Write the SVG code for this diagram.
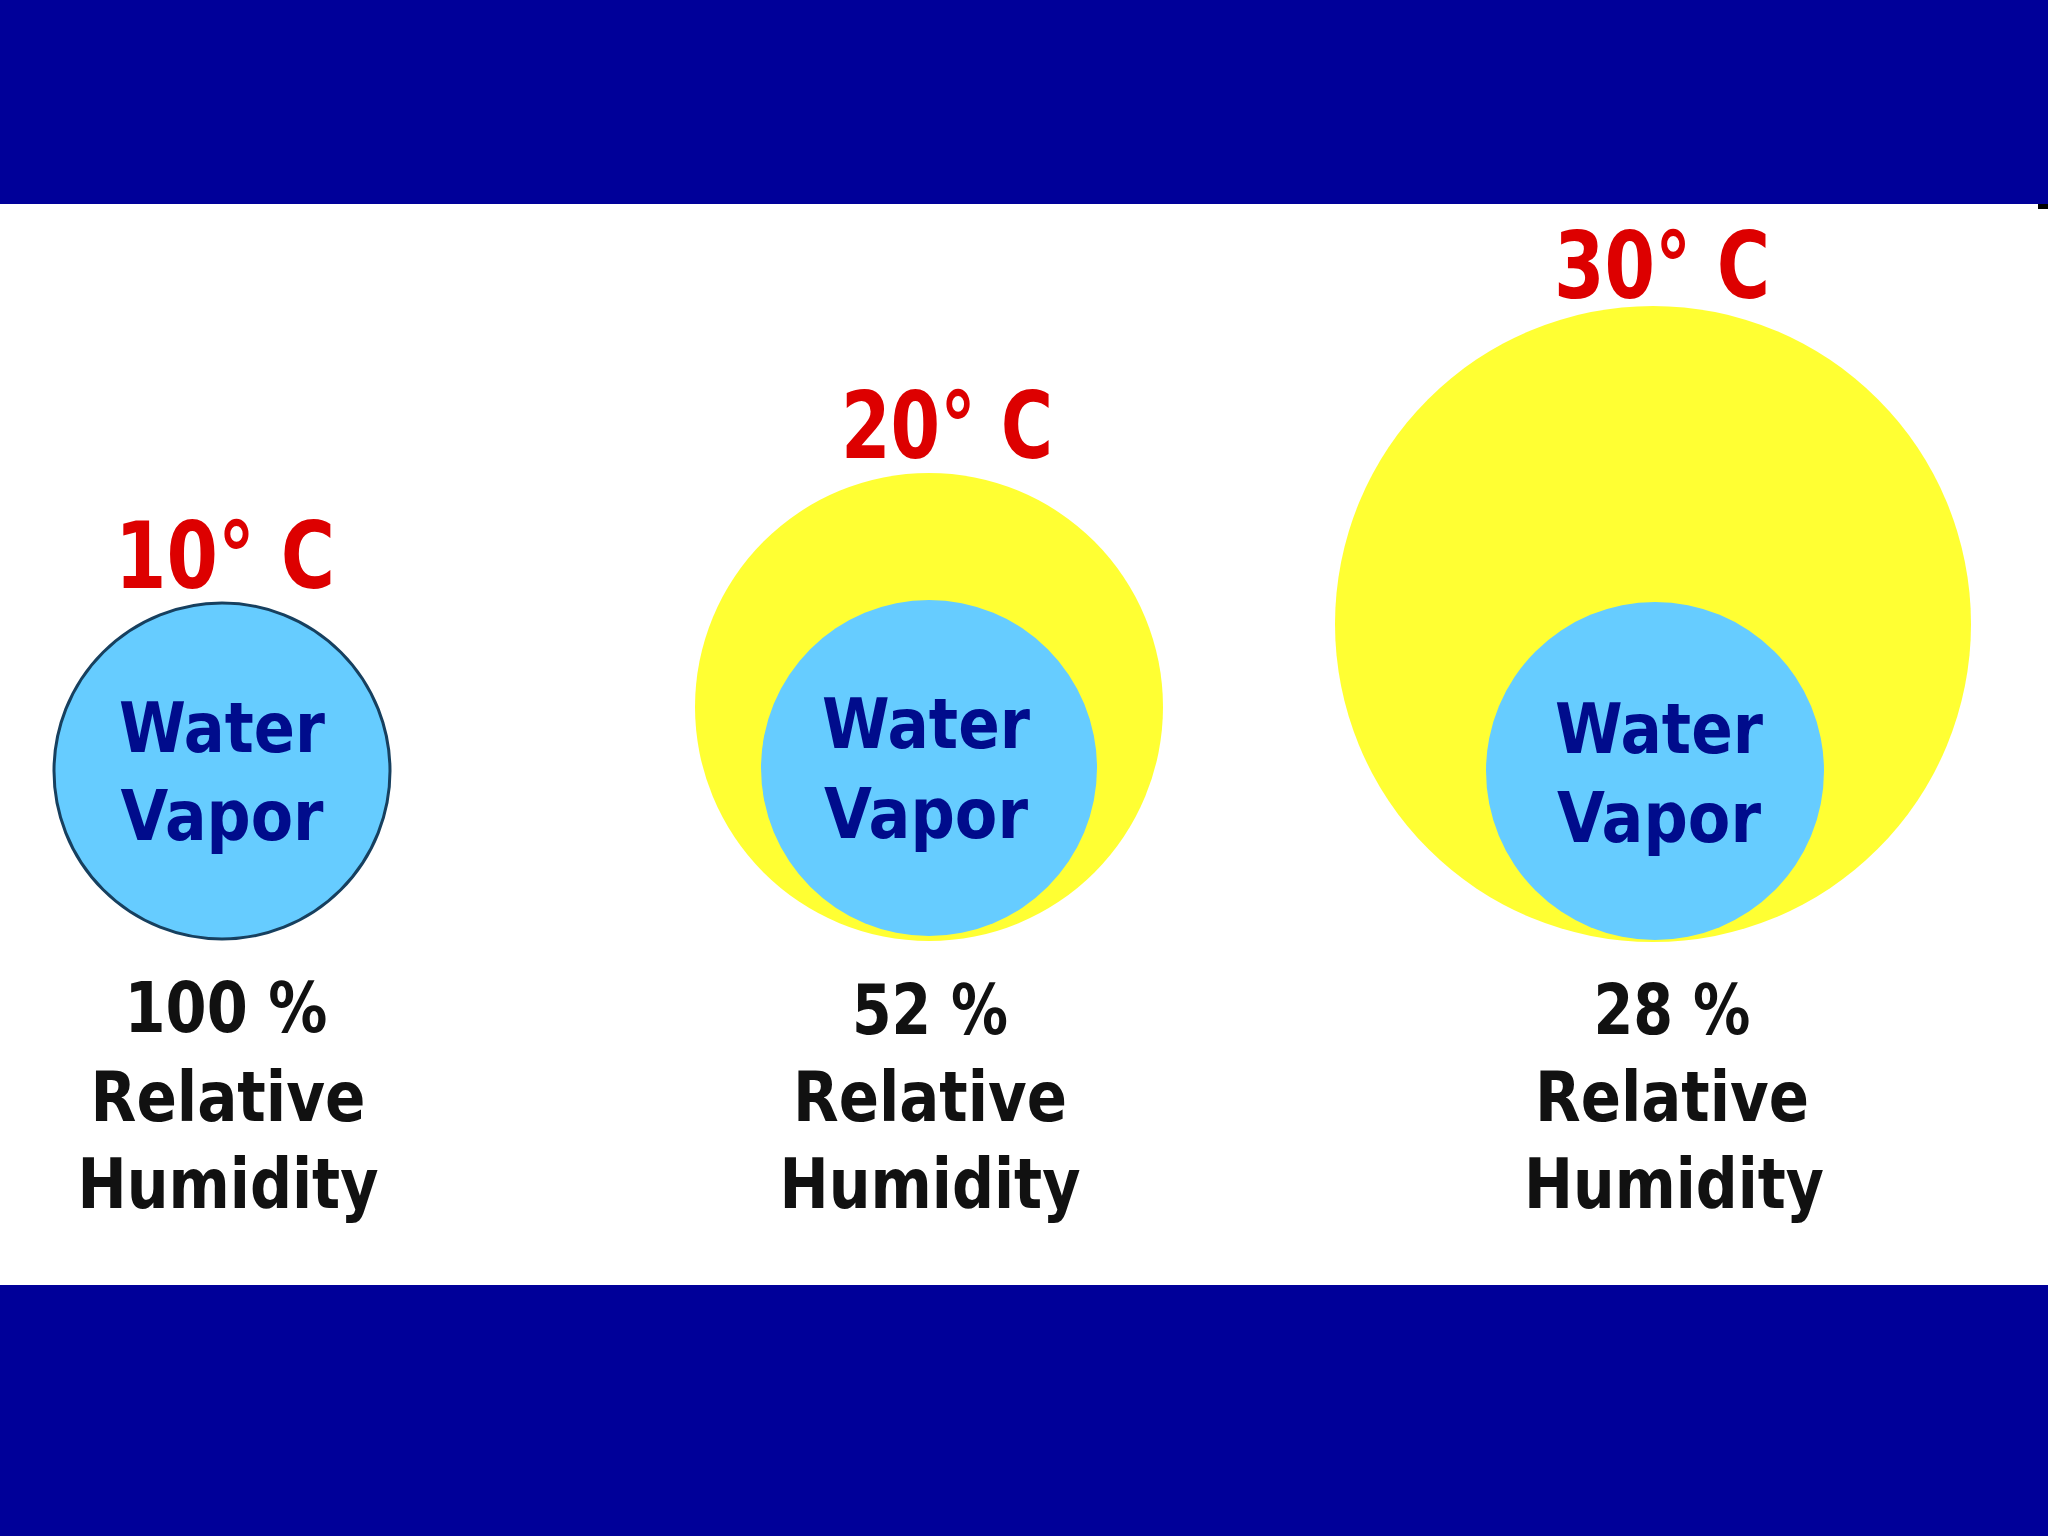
<svg xmlns="http://www.w3.org/2000/svg" width="2048" height="1536" viewBox="0 0 2048 1536">
<style>
.band{fill:#000099}
.yel{fill:#FFFF33}
.vap{fill:#66CCFF}
.temp{font-family:"DejaVu Sans Condensed","DejaVu Sans",sans-serif;font-weight:bold;font-size:92px;fill:#DD0000;text-anchor:middle}
.wv{font-family:"DejaVu Sans","Verdana",sans-serif;font-weight:bold;font-size:70px;fill:#000C8C;text-anchor:middle}
.rh{font-family:"DejaVu Sans Condensed","DejaVu Sans",sans-serif;font-weight:bold;font-size:70px;fill:#111111;text-anchor:middle}
</style>
<rect x="0" y="0" width="2048" height="1536" fill="#FFFFFF"/>
<rect class="band" x="0" y="0" width="2048" height="204"/>
<rect class="band" x="0" y="1285" width="2048" height="251"/>
<rect x="2038" y="204" width="10" height="5" fill="#000000"/>

<g id="node-10C">
<circle class="vap" cx="222" cy="771" r="168" stroke="#17405F" stroke-width="3"/>
<text class="temp" x="225" y="588" textLength="220" lengthAdjust="spacingAndGlyphs">10° C</text>
<text class="wv" x="222" y="752" textLength="206" lengthAdjust="spacingAndGlyphs">Water</text>
<text class="wv" x="222" y="840" textLength="203" lengthAdjust="spacingAndGlyphs">Vapor</text>
<text class="rh" x="226" y="1032" textLength="203" lengthAdjust="spacingAndGlyphs">100 %</text>
<text class="rh" x="228" y="1121" textLength="275" lengthAdjust="spacingAndGlyphs">Relative</text>
<text class="rh" x="228" y="1208" textLength="301" lengthAdjust="spacingAndGlyphs">Humidity</text>
</g>

<g id="node-20C">
<circle class="yel" cx="929" cy="707" r="234"/>
<circle class="vap" cx="929" cy="768" r="168"/>
<text class="temp" x="947" y="458" textLength="212" lengthAdjust="spacingAndGlyphs">20° C</text>
<text class="wv" x="926" y="748" textLength="208" lengthAdjust="spacingAndGlyphs">Water</text>
<text class="wv" x="926" y="838" textLength="204" lengthAdjust="spacingAndGlyphs">Vapor</text>
<text class="rh" x="930" y="1034" textLength="156" lengthAdjust="spacingAndGlyphs">52 %</text>
<text class="rh" x="930" y="1121" textLength="274" lengthAdjust="spacingAndGlyphs">Relative</text>
<text class="rh" x="930" y="1208" textLength="301" lengthAdjust="spacingAndGlyphs">Humidity</text>
</g>

<g id="node-30C">
<circle class="yel" cx="1653" cy="624" r="318"/>
<circle class="vap" cx="1655" cy="771" r="169"/>
<text class="temp" x="1662" y="298" textLength="216" lengthAdjust="spacingAndGlyphs">30° C</text>
<text class="wv" x="1659" y="753" textLength="208" lengthAdjust="spacingAndGlyphs">Water</text>
<text class="wv" x="1659" y="842" textLength="204" lengthAdjust="spacingAndGlyphs">Vapor</text>
<text class="rh" x="1672" y="1034" textLength="157" lengthAdjust="spacingAndGlyphs">28 %</text>
<text class="rh" x="1672" y="1121" textLength="274" lengthAdjust="spacingAndGlyphs">Relative</text>
<text class="rh" x="1674" y="1208" textLength="300" lengthAdjust="spacingAndGlyphs">Humidity</text>
</g>

<g id="connectors"></g>
</svg>
